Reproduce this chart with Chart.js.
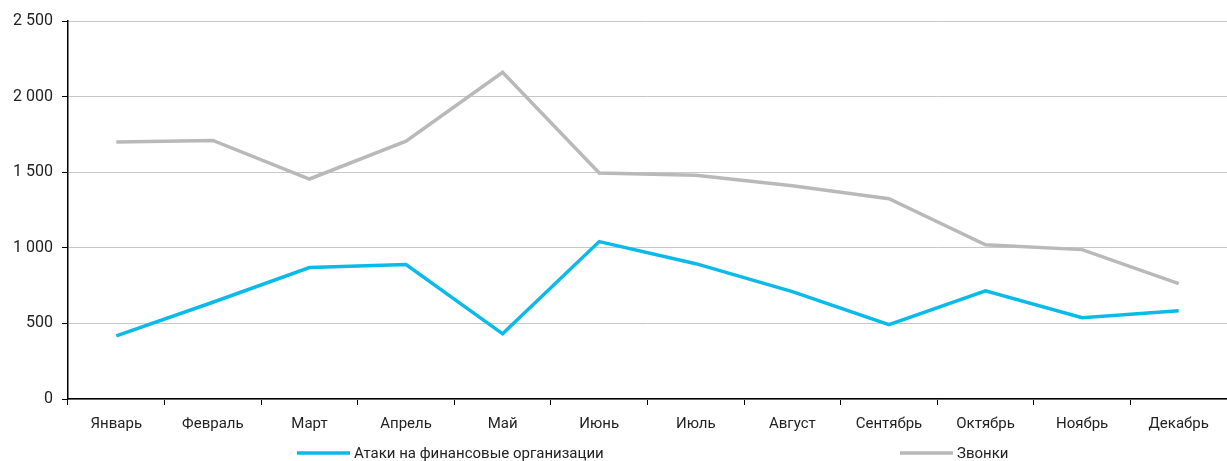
<!DOCTYPE html>
<html>
<head>
<meta charset="utf-8">
<script src="https://cdn.jsdelivr.net/npm/chart.js@4/dist/chart.umd.min.js"></script>
<style>
  html, body { margin: 0; padding: 0; background: #fff; }
  #wrap { width: 1227px; height: 461px; }
</style>
</head>
<body>
<div id="wrap"><canvas id="myChart"></canvas></div>
<script>
var months = ['Январь', 'Февраль', 'Март', 'Апрель', 'Май', 'Июнь', 'Июль', 'Август', 'Сентябрь', 'Октябрь', 'Ноябрь', 'Декабрь'];
var attacks = [418, 640, 869, 889, 431, 1041, 895, 710, 491, 716, 537, 584];
var calls = [1700, 1710, 1455, 1705, 2160, 1495, 1480, 1410, 1325, 1020, 988, 763];
var seriesNames = ['Атаки на финансовые организации', 'Звонки'];
var yTicks = [0, 500, 1000, 1500, 2000, 2500];

var FONT = 'Roboto, "Noto Sans", sans-serif';

// legend drawn by hand: two items spread far apart, as in the original
var bottomLegend = {
    id: 'bottomLegend',
    afterDraw: function (chart) {
        var c = chart.ctx;
        var xs = [297, 900];
        var y = 453;
        c.save();
        c.font = '15px ' + FONT;
        c.textBaseline = 'middle';
        chart.data.datasets.forEach(function (ds, i) {
            c.strokeStyle = ds.borderColor;
            c.lineWidth = 3.5;
            c.beginPath();
            c.moveTo(xs[i], y);
            c.lineTo(xs[i] + 53, y);
            c.stroke();
            c.fillStyle = '#222';
            c.fillText(ds.label, xs[i] + 57, y + 1);
        });
        c.restore();
    }
};

var ctx = document.getElementById('myChart');

new Chart(ctx, {
    type: 'line',
    data: {
        labels: months,
        datasets: [{
            label: seriesNames[0],
            data: attacks,
            borderColor: '#0abbe9',
            borderWidth: 3.5,
            pointRadius: 0,
            tension: 0
        }, {
            label: seriesNames[1],
            data: calls,
            borderColor: '#b9b9b9',
            borderWidth: 3.5,
            pointRadius: 0,
            tension: 0
        }]
    },
    options: {
        responsive: true,
        maintainAspectRatio: false,
        animation: false,
        layout: { padding: { top: 21, bottom: 18, left: 0, right: 0 } },
        plugins: {
            legend: { display: false },
            tooltip: { enabled: false }
        },
        scales: {
            x: {
                offset: true,
                grid: {
                    offset: true,
                    drawOnChartArea: false,
                    drawTicks: true,
                    tickLength: 6,
                    tickColor: '#000'
                },
                border: { color: '#000', width: 1.5 },
                ticks: {
                    color: '#222',
                    font: { family: FONT, size: 15 },
                    padding: 10,
                    maxRotation: 0,
                    autoSkip: false
                }
            },
            y: {
                min: 0,
                max: 2500,
                afterBuildTicks: function (scale) {
                    scale.ticks = yTicks.map(function (v) { return { value: v }; });
                },
                afterFit: function (scale) { scale.width = 68; },
                grid: {
                    color: '#c8c8c8',
                    lineWidth: 1,
                    tickLength: 6,
                    tickColor: '#000'
                },
                border: { color: '#000', width: 1.5 },
                ticks: {
                    color: '#222',
                    font: { family: FONT, size: 16 },
                    padding: 9,
                    callback: function (v) {
                        return String(v).replace(/\B(?=(\d{3})+(?!\d))/g, ' ');
                    }
                }
            }
        }
    },
    plugins: [bottomLegend]
});
</script>
</body>
</html>
